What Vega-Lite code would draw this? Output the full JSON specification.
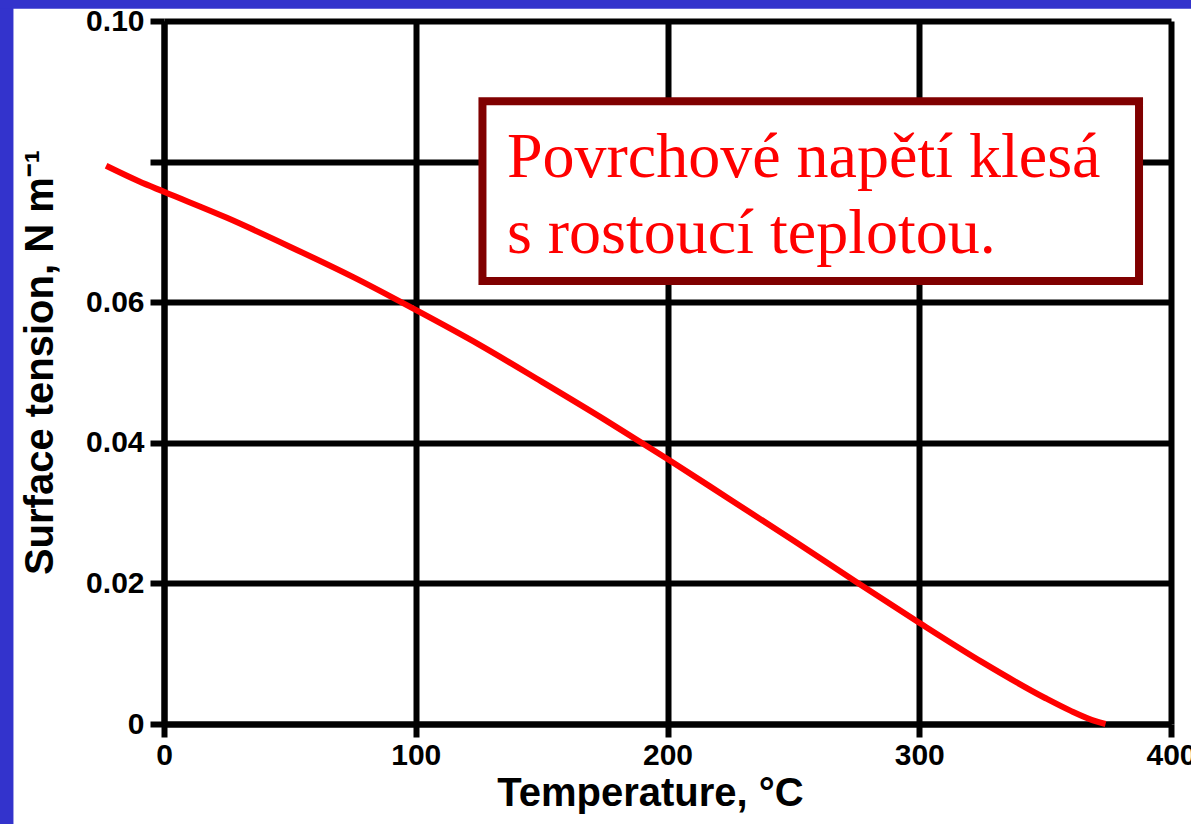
{
  "$schema": "https://vega.github.io/schema/vega-lite/v6.json",
  "width": 1007,
  "height": 703,
  "autosize": {"type": "none"},
  "padding": {"left": 164, "top": 21, "right": 20, "bottom": 100},
  "background": "white",
  "config": {"view": {"stroke": null}, "font": "Liberation Sans"},
  "datasets": {
    "water": [
      {"temperature": -23, "tension": 0.0794},
      {"temperature": -10, "tension": 0.0772},
      {"temperature": 0, "tension": 0.0757},
      {"temperature": 25, "tension": 0.0720},
      {"temperature": 50, "tension": 0.0679},
      {"temperature": 75, "tension": 0.0636},
      {"temperature": 100, "tension": 0.0589},
      {"temperature": 125, "tension": 0.0540},
      {"temperature": 150, "tension": 0.0487},
      {"temperature": 175, "tension": 0.0433},
      {"temperature": 200, "tension": 0.0377},
      {"temperature": 225, "tension": 0.0319},
      {"temperature": 250, "tension": 0.0261},
      {"temperature": 275, "tension": 0.0202},
      {"temperature": 300, "tension": 0.0144},
      {"temperature": 325, "tension": 0.0088},
      {"temperature": 350, "tension": 0.0037},
      {"temperature": 360, "tension": 0.0019},
      {"temperature": 370, "tension": 0.0004},
      {"temperature": 374, "tension": 0.0}
    ],
    "one": [{}]
  },
  "layer": [
    {
      "data": {"name": "water"},
      "mark": {"type": "line", "color": "#ff0000", "strokeWidth": 6, "interpolate": "monotone", "clip": false},
      "encoding": {
        "x": {
          "field": "temperature", "type": "quantitative",
          "scale": {"domain": [0, 400], "nice": false, "zero": false},
          "axis": {
            "values": [0, 100, 200, 300, 400],
            "title": "Temperature, °C",
            "titleFont": "Liberation Sans", "titleFontSize": 40, "titleFontWeight": "bold", "titleColor": "black",
            "titleX": 486, "titleY": 81, "titleAlign": "center", "titleBaseline": "alphabetic",
            "labelFont": "Liberation Sans", "labelFontSize": 30, "labelFontWeight": "bold", "labelColor": "black",
            "labelPadding": 3, "labelFlush": false,
            "tickSize": 13, "tickWidth": 6, "tickColor": "black",
            "domain": true, "domainWidth": 6, "domainColor": "black",
            "grid": true, "gridColor": "black", "gridWidth": 6, "gridOpacity": 1
          }
        },
        "y": {
          "field": "tension", "type": "quantitative",
          "scale": {"domain": [0, 0.1], "nice": false, "zero": false},
          "axis": {
            "values": [0, 0.02, 0.04, 0.06, 0.08, 0.1],
            "labelExpr": "datum.value == 0 ? '0' : (abs(datum.value - 0.08) < 1e-9 ? '' : format(datum.value, '.2f'))",
            "title": "Surface tension, N m⁻¹",
            "titleFont": "Liberation Sans", "titleFontSize": 40, "titleFontWeight": "bold", "titleColor": "black",
            "titleAngle": 270, "titleX": -112, "titleY": 341, "titleAlign": "center", "titleBaseline": "alphabetic",
            "labelFont": "Liberation Sans", "labelFontSize": 30, "labelFontWeight": "bold", "labelColor": "black",
            "labelPadding": 6, "labelFlush": false,
            "tickSize": 14, "tickWidth": 6, "tickColor": "black",
            "domain": true, "domainWidth": 6, "domainColor": "black",
            "grid": true, "gridColor": "black", "gridWidth": 6, "gridOpacity": 1
          }
        }
      }
    },
    {
      "data": {"name": "one"},
      "mark": {"type": "rect", "color": "#3333cc", "clip": false},
      "encoding": {
        "x": {"datum": -80, "type": "quantitative", "scale": {"domain": [0, 400], "nice": false, "zero": false}},
        "x2": {"datum": -59.8},
        "y": {"datum": 0.11, "type": "quantitative", "scale": {"domain": [0, 0.1], "nice": false, "zero": false}},
        "y2": {"datum": -0.02}
      }
    },
    {
      "data": {"name": "one"},
      "mark": {"type": "rect", "color": "#3333cc", "clip": false},
      "encoding": {
        "x": {"datum": -80, "type": "quantitative", "scale": {"domain": [0, 400], "nice": false, "zero": false}},
        "x2": {"datum": 420},
        "y": {"datum": 0.11, "type": "quantitative", "scale": {"domain": [0, 0.1], "nice": false, "zero": false}},
        "y2": {"datum": 0.10175}
      }
    },
    {
      "data": {"name": "one"},
      "mark": {"type": "rect", "fill": "white", "stroke": "#800000", "strokeWidth": 8, "clip": false},
      "encoding": {
        "x": {"datum": 126.5, "type": "quantitative", "scale": {"domain": [0, 400], "nice": false, "zero": false}},
        "x2": {"datum": 387.3},
        "y": {"datum": 0.0886, "type": "quantitative", "scale": {"domain": [0, 0.1], "nice": false, "zero": false}},
        "y2": {"datum": 0.0630}
      }
    },
    {
      "data": {"name": "one"},
      "mark": {
        "type": "text", "text": ["Povrchové napětí klesá", "s rostoucí teplotou."],
        "font": "Liberation Serif", "fontSize": 64, "color": "#ff0000",
        "align": "left", "baseline": "alphabetic", "lineHeight": 76, "clip": false
      },
      "encoding": {
        "x": {"datum": 136.2, "type": "quantitative", "scale": {"domain": [0, 400], "nice": false, "zero": false}},
        "y": {"datum": 0.0778, "type": "quantitative", "scale": {"domain": [0, 0.1], "nice": false, "zero": false}}
      }
    }
  ]
}
